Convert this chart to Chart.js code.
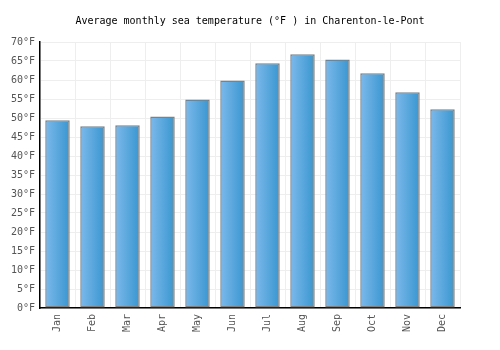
<!DOCTYPE html>
<html>
<head>
<meta charset="utf-8">
<script src="https://cdn.jsdelivr.net/npm/chart.js@4"></script>
<style>
  html, body { margin: 0; padding: 0; background: #fff; }
  #wrap { width: 500px; height: 350px; }
</style>
</head>
<body>
<div id="wrap"><canvas id="chartCanvas" width="500" height="350"></canvas></div>
<script>
// Month labels and average sea temperature (°F)
const months = ['Jan', 'Feb', 'Mar', 'Apr', 'May', 'Jun', 'Jul', 'Aug', 'Sep', 'Oct', 'Nov', 'Dec'];
const seaTemps = [49.4, 47.8, 48.1, 50.4, 54.9, 59.9, 64.4, 66.8, 65.4, 61.8, 56.8, 52.3];

const monoFont = "'DejaVu Sans Mono', monospace";
const barPct = 0.7;

// Light-to-dark horizontal gradient for each bar, placed from the x scale
function barGradient(context) {
  const chart = context.chart;
  const xs = chart.scales && chart.scales.x;
  if (!chart.chartArea || !xs || context.dataIndex === undefined) return '#5aaae0';
  const cx = xs.getPixelForValue(context.dataIndex);
  const half = (chart.chartArea.width / months.length) * barPct / 2;
  if (!isFinite(cx) || !isFinite(half)) return '#5aaae0';
  const g = chart.ctx.createLinearGradient(cx - half, 0, cx + half, 0);
  g.addColorStop(0, '#7db9ea');
  g.addColorStop(1, '#3996d0');
  return g;
}

const ctx = document.getElementById('chartCanvas').getContext('2d');
const chart = new Chart(ctx, {
  type: 'bar',
  data: {
    labels: months,
    datasets: [{
      label: 'Sea temperature',
      data: seaTemps,
      backgroundColor: barGradient,
      borderColor: '#808080',
      borderWidth: 1.5,
      borderSkipped: false,
      barPercentage: barPct,
      categoryPercentage: 1.0
    }]
  },
  options: {
    responsive: false,
    animation: false,
    plugins: {
      legend: { display: false },
      tooltip: { enabled: false },
      title: {
        display: true,
        text: 'Average monthly sea temperature (°F ) in Charenton-le-Pont',
        color: '#000',
        font: { family: monoFont, size: 10, weight: 'normal' },
        padding: { top: 15, bottom: 15 }
      }
    },
    scales: {
      x: {
        grid: { color: '#eeeeee', offset: true, drawTicks: false },
        border: { color: '#000', width: 1.5 },
        ticks: {
          color: '#555',
          font: { family: monoFont, size: 10 },
          maxRotation: 90,
          minRotation: 90,
          padding: 6
        },
        afterFit: s => { s.height = 42; }
      },
      y: {
        min: 0,
        max: 70,
        grid: { color: '#eeeeee', drawTicks: false },
        border: { color: '#000', width: 1.5 },
        ticks: {
          stepSize: 5,
          color: '#555',
          font: { family: monoFont, size: 10 },
          padding: 5,
          callback: v => v + '°F'
        },
        afterFit: s => { s.width = 40; }
      },
      // empty right-hand axis, only reserves the right margin
      yRight: {
        position: 'right',
        min: 0,
        max: 70,
        grid: { display: false },
        border: { display: false },
        ticks: { display: false },
        afterFit: s => { s.width = 40; }
      }
    }
  }
});
</script>
</body>
</html>
